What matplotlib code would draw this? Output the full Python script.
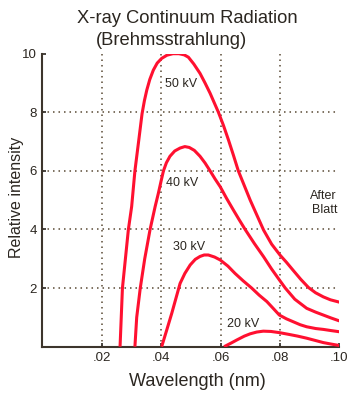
import matplotlib
matplotlib.use("Agg")
import matplotlib.pyplot as plt

# wavelength (nm) and relative intensity
x_50 = [0.0262, 0.0266, 0.0270, 0.0280, 0.0290, 0.0301, 0.0312, 0.0325, 0.0336,
        0.0344, 0.0352, 0.0362, 0.0374, 0.0387, 0.0402, 0.0420, 0.0440, 0.0460,
        0.0478, 0.0492, 0.0510, 0.0531, 0.0548, 0.0565, 0.0593, 0.0610, 0.0627,
        0.0643, 0.0660, 0.0680, 0.0700, 0.0722, 0.0745, 0.0772, 0.0800, 0.0822,
        0.0845, 0.0870, 0.0896, 0.0920, 0.0946, 0.0970, 0.1000]
y_50 = [0.0, 1.0, 2.0, 3.0, 4.0, 4.78, 6.0, 7.05, 7.95,
        8.4, 8.76, 9.12, 9.44, 9.68, 9.84, 9.95, 10.0, 10.0,
        9.96, 9.88, 9.65, 9.33, 9.0, 8.65, 8.0, 7.55, 7.05,
        6.55, 6.0, 5.5, 5.0, 4.5, 3.98, 3.5, 3.13, 2.88,
        2.6, 2.3, 2.02, 1.84, 1.7, 1.6, 1.52]

x_40 = [0.0312, 0.0318, 0.0330, 0.0345, 0.0363, 0.0380, 0.0391, 0.0400, 0.0408,
        0.0418, 0.0430, 0.0446, 0.0464, 0.0480, 0.0495, 0.0512, 0.0531, 0.0548,
        0.0565, 0.0582, 0.0599, 0.0620, 0.0643, 0.0663, 0.0683, 0.0714, 0.0745,
        0.0772, 0.0798, 0.0818, 0.0850, 0.0890, 0.0920, 0.0946, 0.0972, 0.1000]
y_40 = [0.0, 1.0, 2.0, 3.0, 4.0, 4.78, 5.24, 5.65, 6.0,
        6.28, 6.5, 6.68, 6.78, 6.83, 6.8, 6.7, 6.5, 6.27,
        6.0, 5.72, 5.46, 5.07, 4.67, 4.33, 4.0, 3.52, 3.07,
        2.65, 2.28, 2.0, 1.62, 1.31, 1.18, 1.08, 0.98, 0.88]

x_30 = [0.0402, 0.0420, 0.0436, 0.0450, 0.0464, 0.0480, 0.0498, 0.0515, 0.0531,
        0.0545, 0.0559, 0.0580, 0.0599, 0.0625, 0.0649, 0.0676, 0.0705, 0.0730,
        0.0756, 0.0778, 0.0798, 0.0822, 0.0845, 0.0868, 0.0890, 0.0920, 0.0946,
        0.0972, 0.1000]
y_30 = [0.0, 0.6, 1.14, 1.65, 2.16, 2.5, 2.79, 2.98, 3.08,
        3.13, 3.13, 3.06, 2.96, 2.75, 2.5, 2.25, 2.0, 1.76,
        1.54, 1.3, 1.08, 0.95, 0.85, 0.75, 0.68, 0.62, 0.59,
        0.55, 0.51]

x_20 = [0.0612, 0.0635, 0.0655, 0.0680, 0.0700, 0.0722, 0.0744, 0.0770, 0.0798,
        0.0830, 0.0860, 0.0890, 0.0920, 0.0946, 0.0972, 0.1000]
y_20 = [0.0, 0.12, 0.23, 0.36, 0.44, 0.5, 0.53, 0.52, 0.48,
        0.42, 0.36, 0.29, 0.21, 0.14, 0.09, 0.04]

curves = [(x_50, y_50), (x_40, y_40), (x_30, y_30), (x_20, y_20)]
labels = ["50 kV", "40 kV", "30 kV", "20 kV"]
label_pos = [(0.0413, 8.97), (0.0417, 5.59), (0.0439, 3.41), (0.0621, 0.77)]

xticks = [0.02, 0.04, 0.06, 0.08, 0.10]
xticklabels = [".02", ".04", ".06", ".08", ".10"]
yticks = [2, 4, 6, 8, 10]

plt.rcParams['font.family'] = ['Liberation Sans', 'DejaVu Sans']
ink = '#2b2620'
red = '#ff1030'
grid_col = '#5a4a35'

fig = plt.figure(figsize=(3.51, 3.99), dpi=100)
ax = fig.add_axes([0.1202, 0.1311, 0.8467, 0.7343])

for (xs, ys) in curves:
    ax.plot(xs, ys, color=red, lw=2.2, solid_capstyle='butt',
            solid_joinstyle='round', zorder=3)

for lab, (lx, ly) in zip(labels, label_pos):
    ax.text(lx, ly, lab, fontsize=9, color=ink, ha='left', va='center')
ax.text(0.0992, 4.9, "After\nBlatt", fontsize=9, color=ink, ha='right',
        va='center', linespacing=1.25)

# dotted grid
for yv in [2, 4, 6, 8]:
    ax.plot([0, 0.1], [yv, yv], ls=(0, (1, 2.6)), color=grid_col, lw=1.1, zorder=1)
for xv in [0.02, 0.04, 0.06, 0.08]:
    ax.plot([xv, xv], [0, 10], ls=(0, (1, 2.6)), color=grid_col, lw=1.1, zorder=1)

ax.set_xlim(0, 0.1)
ax.set_ylim(0, 10)
ax.set_xticks(xticks)
ax.set_xticklabels(xticklabels)
ax.set_yticks(yticks)
ax.tick_params(direction='in', length=3, width=1.2, color=ink, labelcolor=ink,
               labelsize=9.5, pad=4)
for s in ['top', 'right']:
    ax.spines[s].set_visible(False)
for s in ['left', 'bottom']:
    ax.spines[s].set_color('#3d352c')
    ax.spines[s].set_linewidth(1.5)

ax.set_xlabel('Wavelength (nm)', fontsize=13, color=ink, va='center')
ax.xaxis.set_label_coords(0.523, -0.12)
ax.set_ylabel('Relative intensity', fontsize=11.5, color=ink, va='center')
ax.yaxis.set_label_coords(-0.085, 0.511)

fig.text(0.533, 0.953, 'X-ray Continuum Radiation', fontsize=13.2, color=ink,
         ha='center', va='center')
fig.text(0.49, 0.898, '(Brehmsstrahlung)', fontsize=13.2, color=ink,
         ha='center', va='center')

fig.savefig('out.png', dpi=100)
